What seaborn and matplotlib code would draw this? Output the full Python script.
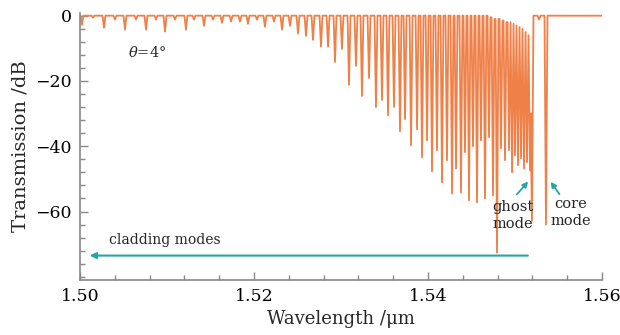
import matplotlib
matplotlib.use("Agg")
import matplotlib.pyplot as plt
import seaborn as sns
import pandas as pd

# dip centres (um) and dip depths (dB)
dip_wavelength = [
    1.50023, 1.50149, 1.50276, 1.50402, 1.50517, 1.50644, 1.50759, 1.50874,
    1.50977, 1.51092, 1.51218, 1.51310, 1.51425, 1.51529, 1.51632, 1.51736,
    1.51839, 1.51931, 1.52034, 1.52126, 1.52230, 1.52322, 1.52414, 1.52506,
    1.52598, 1.52678, 1.52770, 1.52851, 1.52931, 1.53011, 1.53092, 1.53172,
    1.53241, 1.53322, 1.53402, 1.53471, 1.53540, 1.53609, 1.53678, 1.53736,
    1.53805, 1.53874, 1.53931, 1.53989, 1.54046, 1.54103, 1.54161, 1.54218,
    1.54276, 1.54322, 1.54379, 1.54425, 1.54471, 1.54517, 1.54563, 1.54609,
    1.54655, 1.54701, 1.54747, 1.54793, 1.54839, 1.54885, 1.54931, 1.54966,
    1.55000, 1.55034, 1.55069, 1.55103, 1.55138, 1.55172, 1.55195, 1.55276,
    1.55356,
]
dip_depth = [
    -2.8, -0.6, -3.7, -1.2, -4.3, -1.2, -4.3, -1.2,
    -4.9, -1.2, -4.3, -1.2, -3.1, -1.2, -2.2, -1.8,
    -1.8, -2.5, -1.2, -3.4, -1.8, -4.3, -3.1, -5.5,
    -6.2, -7.4, -9.5, -9.5, -14.2, -10.2, -21.2, -15.4,
    -24.6, -19.1, -28.0, -25.8, -30.5, -28.0, -35.4, -31.7,
    -39.7, -34.8, -43.4, -38.2, -47.7, -41.2, -51.1, -44.3,
    -54.5, -46.8, -54.2, -41.8, -56.6, -40.0, -57.2, -38.2,
    -56.0, -37.2, -55.1, -72.6, -40.6, -44.3, -41.2, -48.0,
    -42.8, -45.8, -43.7, -46.8, -44.9, -47.4, -62.8, -1.2,
    -64.0,
]
# level the trace climbs back to after each dip (dB)
recovery_level = [0.0] * 57 + [
    -0.5, -1.0, -1.0, -1.5, -2.0, -2.0, -2.5,
    -3.0, -3.5, -4.0, -5.0, -6.0, -30.0, 0.0, 0.0,
    0.0,
]
wl_start, wl_end = 1.50, 1.56
half_width = 0.00017

# build the trace: flat baseline with narrow dips
wl, tr = [wl_start], [0.0]
prev_level = 0.0
for c, d, lvl in zip(dip_wavelength, dip_depth, recovery_level):
    wl += [c - half_width, c, c + half_width]
    tr += [prev_level, d, lvl]
    prev_level = lvl
wl.append(wl_end)
tr.append(0.0)
spectrum = pd.DataFrame({"wavelength": wl, "transmission": tr})

sns.set_theme(style="white")
plt.rcParams["font.family"] = ["DejaVu Serif"]
plt.rcParams["mathtext.fontset"] = "dejavuserif"

fig = plt.figure(figsize=(6.2, 3.35), dpi=100)
ax = fig.add_axes([0.129, 0.164, 0.842, 0.797])

sns.lineplot(data=spectrum, x="wavelength", y="transmission", sort=False,
             estimator=None, color="#ef8048", linewidth=1.3, ax=ax)

teal = "#26a6a0"
ax.annotate("", xy=(1.5008, -73.5), xytext=(1.5518, -73.5),
            arrowprops=dict(arrowstyle="-|>", color=teal, lw=1.5,
                            mutation_scale=9))
ax.text(1.5098, -68.6, "cladding modes", fontsize=10, ha="center", va="center")
ax.text(1.5055, -11.4, r"$\theta$=4°", fontsize=10.5, ha="left", va="center")

ax.text(1.5498, -61.3, "ghost\nmode", fontsize=10.5, ha="center", va="center",
        linespacing=1.3)
ax.annotate("", xy=(1.55172, -50.2), xytext=(1.5500, -55.4),
            arrowprops=dict(arrowstyle="-|>", color=teal, lw=1.3,
                            mutation_scale=8))
ax.text(1.5564, -60.3, "core\nmode", fontsize=10.5, ha="center", va="center",
        linespacing=1.3)
ax.annotate("", xy=(1.55391, -50.2), xytext=(1.55529, -55.4),
            arrowprops=dict(arrowstyle="-|>", color=teal, lw=1.3,
                            mutation_scale=8))

ax.set_xlim(wl_start, wl_end)
ax.set_ylim(-81, 0.8)
ax.set_xticks([1.50, 1.52, 1.54, 1.56])
ax.set_xticklabels(["1.50", "1.52", "1.54", "1.56"])
ax.set_xticks([1.50 + 0.004 * i for i in range(16)], minor=True)
ax.set_yticks([0, -20, -40, -60])
ax.set_yticklabels(["0", "\u221220", "\u221240", "\u221260"])
ax.set_yticks([-4 * i for i in range(21)], minor=True)
ax.tick_params(which="both", direction="in", colors="#888888",
               labelcolor="black", labelsize=12.5, width=1.0,
               bottom=True, left=True, top=False, right=False)
ax.tick_params(which="major", length=6, pad=6)
ax.tick_params(which="minor", length=3.5)
ax.set_xlabel("Wavelength /\u03bcm", fontsize=13, labelpad=3)
ax.set_ylabel("Transmission /dB", fontsize=14, labelpad=4)
for side in ["top", "right"]:
    ax.spines[side].set_visible(False)
for side in ["left", "bottom"]:
    ax.spines[side].set_color("#888888")
    ax.spines[side].set_linewidth(1.2)

fig.savefig("out.png", dpi=100)
